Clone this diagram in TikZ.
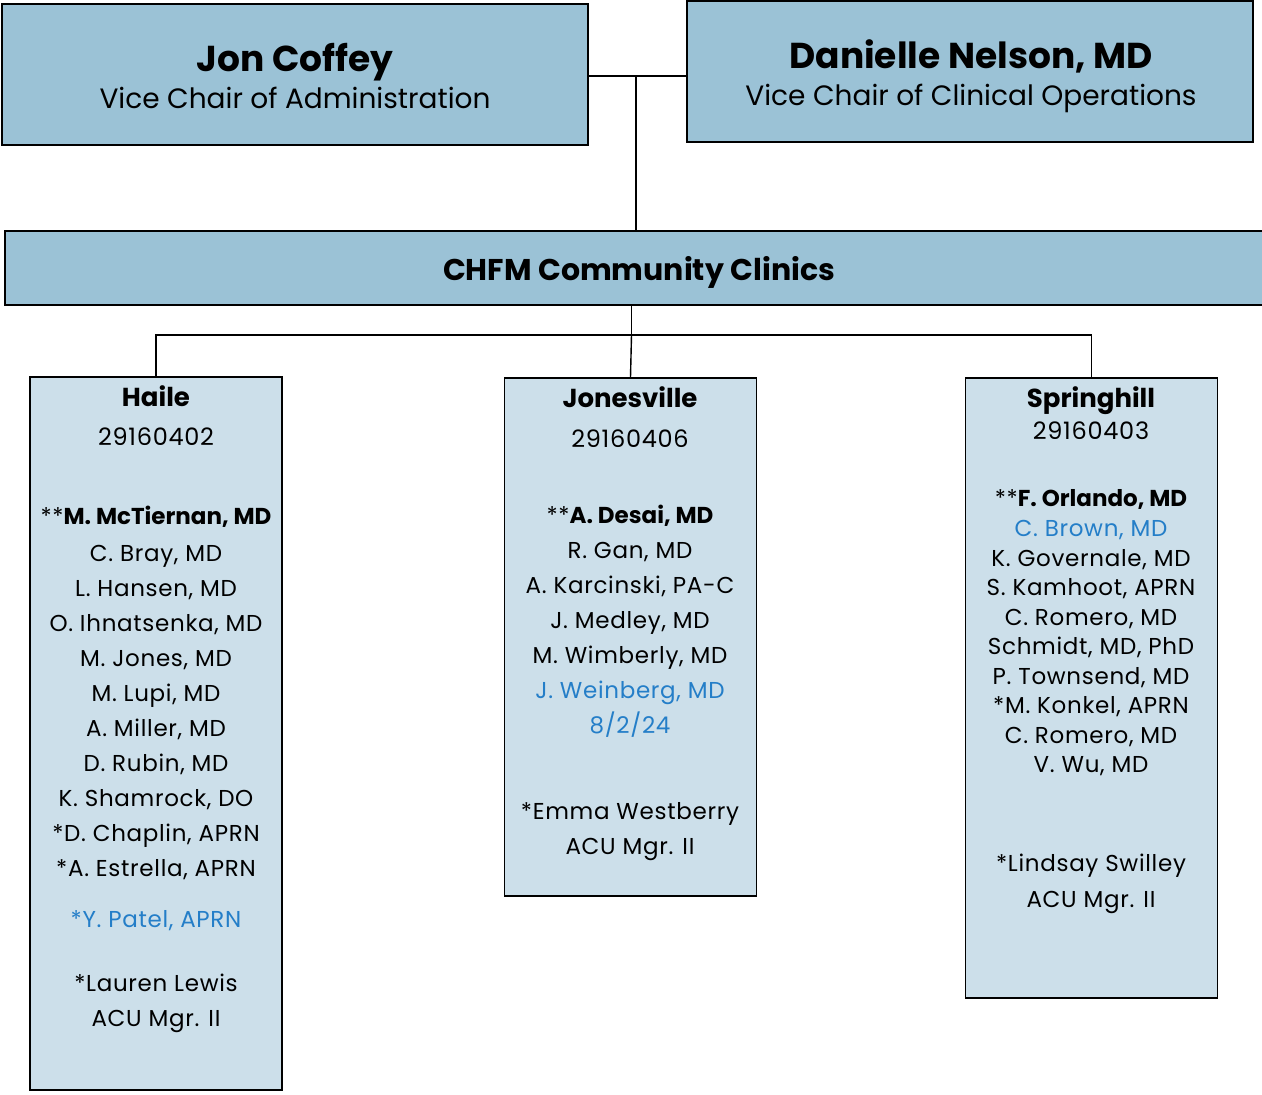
\documentclass[tikz,border=0pt]{standalone}
\usepackage{fontspec}
\setmainfont{Poppins}
\newfontfamily\staffface{Poppins}[LetterSpace=3]
\usetikzlibrary{positioning}
\definecolor{chairblue}{RGB}{155,194,214}
\definecolor{clinicblue}{RGB}{204,223,234}
\definecolor{newblue}{RGB}{36,126,200}
\newcommand{\leadname}[1]{{\bfseries\addfontfeature{LetterSpace=0}#1}}
\tikzset{
headbox/.style={shape=rectangle, draw=black, line width=1.6pt, fill=chairblue},
clinicbox/.style={shape=rectangle, draw=black, line width=1.6pt, fill=clinicblue, minimum width=252pt},
link/.style={draw=black, line width=1.4pt},
bigname/.style={anchor=base, inner sep=0pt, font=\fontsize{36}{40}\selectfont\bfseries},
role/.style={anchor=base, inner sep=0pt, font=\fontsize{28}{32}\selectfont},
sitename/.style={anchor=base, inner sep=0pt, font=\fontsize{26}{30}\selectfont\bfseries},
sitecode/.style={anchor=base, inner sep=0pt, font=\staffface\fontsize{24}{28}\selectfont},
staff/.style={anchor=base, inner sep=0pt, font=\staffface\fontsize{23}{26}\selectfont},
}
\begin{document}
\begin{tikzpicture}[x=1pt, y=-1pt]
\useasboundingbox (0,0) rectangle (1262,1095);
% vice chairs
\node[headbox, minimum width=586pt, minimum height=141pt] (jon) at (295,74.5) {};
\node[bigname] (jon-name) at (295,71.5) {Jon Coffey};
\node[role] (jon-role) at (295,108) {Vice Chair of Administration};
\node[headbox, minimum width=566pt, minimum height=141pt] (danielle) at (970,71.5) {};
\node[bigname] (danielle-name) at (971,68.5) {Danielle Nelson, MD};
\node[role] (danielle-role) at (971,105) {Vice Chair of Clinical Operations};
% community clinics
\node[headbox, minimum width=1259pt, minimum height=74pt] (chfm) at (634.5,268) {};
\node[role, font=\fontsize{30}{34}\selectfont\bfseries] (chfm-name) at (639,280) {CHFM Community Clinics};
% clinic boxes
\node[clinicbox, minimum height=713pt] (haile) at (156,733.5) {};
\node[clinicbox, minimum height=518pt] (jones) at (630.5,637) {};
\node[clinicbox, minimum height=620pt] (spring) at (1091.5,688) {};
% connectors
\coordinate (top join) at (636,76);
\coordinate (bus) at (631.5,335);
\draw[link] (jon.east |- top join) -- (danielle.west |- top join);
\draw[link] (top join) -- (top join |- chfm.north);
\draw[link] (bus |- chfm.south) -- (bus);
\draw[link] (haile.north) |- (bus) -| (spring.north);
\draw[link] (bus) -- (jones.north);
% Haile
\node[sitename] (haile-name) at (156,406) {Haile};
\node[sitecode] (haile-code) at (156,445) {29160402};
\node[staff] (haile-lead) at (156,524) {**\leadname{M. McTiernan, MD}};
\foreach \who [count=\i from 0] in {{C. Bray, MD},{L. Hansen, MD},{O. Ihnatsenka, MD},{M. Jones, MD},{M. Lupi, MD},{A. Miller, MD},{D. Rubin, MD},{K. Shamrock, DO},{*D. Chaplin, APRN},{*A. Estrella, APRN}}
  \node[staff] (haile-\i) at (156,561+35*\i) {\who};
\node[staff, text=newblue] (haile-new) at (156,927) {*Y. Patel, APRN};
\node[staff] (haile-mgr) at (156,991) {*Lauren Lewis};
\node[staff] (haile-mgr-role) at (156,1026) {ACU Mgr. II};
% Jonesville
\node[sitename] (jones-name) at (630,407) {Jonesville};
\node[sitecode] (jones-code) at (630,447) {29160406};
\node[staff] (jones-lead) at (630,523) {**\leadname{A. Desai, MD}};
\foreach \who [count=\i from 0] in {{R. Gan, MD},{A. Karcinski, PA-C},{J. Medley, MD},{M. Wimberly, MD}}
  \node[staff] (jones-\i) at (630,558+35*\i) {\who};
\node[staff, text=newblue] (jones-new) at (630,698) {J. Weinberg, MD};
\node[staff, text=newblue] (jones-date) at (630,733) {8/2/24};
\node[staff] (jones-mgr) at (630,819) {*Emma Westberry};
\node[staff] (jones-mgr-role) at (630,854) {ACU Mgr. II};
% Springhill
\node[sitename] (spring-name) at (1091,407) {Springhill};
\node[sitecode] (spring-code) at (1091,439) {29160403};
\node[staff] (spring-lead) at (1091,506) {**\leadname{F. Orlando, MD}};
\node[staff, text=newblue] (spring-new) at (1091,536) {C. Brown, MD};
\foreach \who [count=\i from 0] in {{K. Governale, MD},{S. Kamhoot, APRN},{C. Romero, MD},{Schmidt, MD, PhD},{P. Townsend, MD},{*M. Konkel, APRN},{C. Romero, MD},{V. Wu, MD}}
  \node[staff] (spring-\i) at (1091,566+29.5*\i) {\who};
\node[staff] (spring-mgr) at (1091,871) {*Lindsay Swilley};
\node[staff] (spring-mgr-role) at (1091,907) {ACU Mgr. II};
\end{tikzpicture}
\end{document}
